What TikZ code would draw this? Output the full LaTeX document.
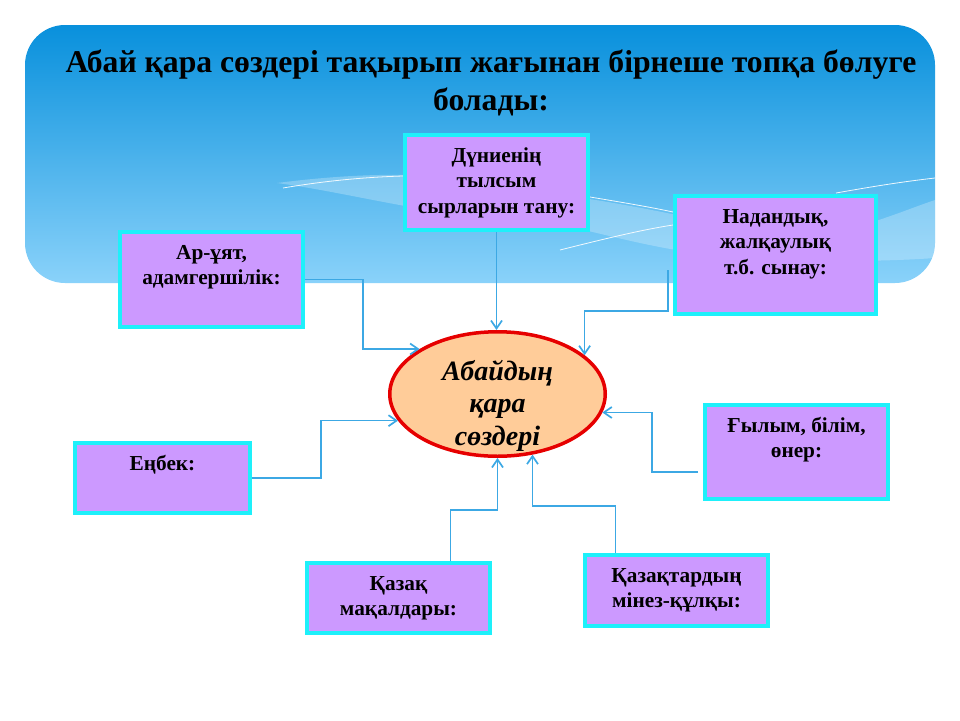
\documentclass[tikz,border=0pt]{standalone}
\usepackage{fontspec}
\setmainfont{Liberation Serif}
\usetikzlibrary{shapes.geometric,arrows.meta}
\definecolor{skytop}{RGB}{8,144,220}
\definecolor{skybot}{RGB}{138,210,250}
\definecolor{boxfill}{RGB}{204,153,255}
\definecolor{boxline}{RGB}{30,240,250}
\definecolor{ovalfill}{RGB}{255,204,153}
\definecolor{ovalline}{RGB}{230,0,0}
\definecolor{linkblue}{RGB}{60,168,228}
\newcommand{\topictext}[3]{\parbox[t][#2pt][t]{#1pt}{\centering\rule{0pt}{27pt}#3}}
\begin{document}
\begin{tikzpicture}[x=1pt, y=-1pt,
  topic/.style={draw=boxline, line width=4pt, fill=boxfill, inner sep=0pt, font=\bfseries\fontsize{21.3}{25.7}\selectfont},
  oval/.style={ellipse, draw=ovalline, line width=3.5pt, fill=ovalfill, inner sep=0pt, minimum width=215.5pt, minimum height=124.5pt, font=\bfseries\itshape\fontsize{28}{32.5}\selectfont},
  link/.style={draw=linkblue, line width=1.2pt, -{Straight Barb[length=8pt,width=11pt,line width=1.7pt]}},
  cloud/.style={white, opacity=0.25},
  streak/.style={white, line width=0.8pt, opacity=0.9}]
\useasboundingbox (0,0) rectangle (960,720);
\shade[top color=skytop, bottom color=skybot, rounded corners=40] (25,25) rectangle (935,283);
\fill[cloud] (277,183) .. controls (340,175) and (400,172) .. (460,178) -- (460,215) .. controls (390,205) and (330,190) .. cycle;
\fill[cloud] (560,195) .. controls (620,202) and (700,220) .. (760,232) .. controls (830,245) and (890,215) .. (935,200) -- (935,258) .. controls (880,262) and (800,262) .. (740,258) .. controls (660,252) and (600,232) .. (560,225) -- cycle;
\draw[streak] (283,188) .. controls (330,180) and (370,177) .. (403,176);
\draw[streak] (590,197) .. controls (620,202) and (650,207) .. (673,212);
\draw[streak] (560,250) .. controls (600,240) and (640,230) .. (673,225);
\draw[streak] (836,193) .. controls (870,187) and (900,182) .. (935,178);

\node[font=\bfseries\fontsize{31.7}{38}\selectfont, align=center] (title) at (491,83) {Абай қара сөздері тақырып жағынан бірнеше топқа бөлуге\\болады:};

\node[topic] (dunie) at (496.5,182.5) {\topictext{183}{95}{Дүниенің\\тылсым\\сырларын тану:}};
\node[topic] (aryat) at (211.5,279.5) {\topictext{183}{95}{Ар-ұят,\\адамгершілік:}};
\node[topic] (nadan) at (775.5,255) {\topictext{201}{118}{Надандық,\\жалқаулық\\т.б. сынау:}};
\node[topic] (enbek) at (162.5,478) {\topictext{175}{70}{Еңбек:}};
\node[topic] (ghylym) at (796.5,452) {\topictext{183}{94}{Ғылым, білім,\\өнер:}};
\node[topic] (maqal) at (398.5,598) {\topictext{183}{70}{Қазақ\\мақалдары:}};
\node[topic] (minez) at (676.5,590.5) {\topictext{183}{71}{Қазақтардың\\мінез-құлқы:}};

\node[oval] (abai) at (497.5,394) {\raisebox{14pt}[0pt][0pt]{\begin{tabular}[t]{@{}c@{}}Абайдың\\қара\\сөздері\end{tabular}}};

\draw[link] (aryat.east) -- ++(58,0) |- (abai.150);
\draw[link] (dunie.south) -- (dunie.south |- abai.north);
\draw[link] ([xshift=-5pt,yshift=-15pt]nadan.west) -- ++(0,41) -| (abai.24);
\draw[link] (enbek.east) -- ++(69,0) |- (abai.195);
\draw[link] ([xshift=-5pt,yshift=-20pt]ghylym.west) -- ++(-46,0) |- (abai.350);
\draw[link] ([xshift=52pt]maqal.north) -- ++(0,-51) -| (abai.south);
\draw[link] ([xshift=-61pt]minez.north) -- ++(0,-47) -| (abai.300);
\end{tikzpicture}
\end{document}
